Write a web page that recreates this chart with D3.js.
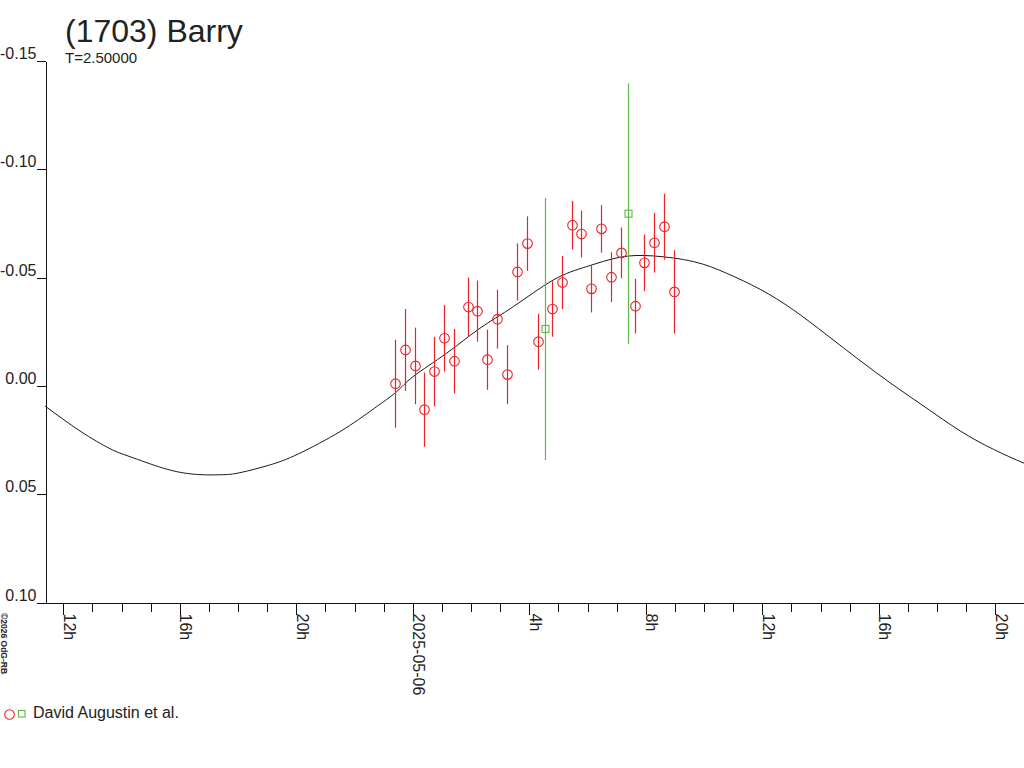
<!DOCTYPE html>
<html>
<head>
<meta charset="utf-8">
<script src="https://cdn.jsdelivr.net/npm/d3@7"></script>
<style>
  html, body { margin: 0; padding: 0; background: #fff; }
  svg { display: block; }
  text { font-family: "Liberation Sans", Arial, sans-serif; fill: #222; }
</style>
</head>
<body>
<svg id="chart" width="1024" height="768"></svg>
<script>
// ---- Data (hours relative to 2025-05-06 00:00 UTC; magnitudes) ----
const title = "(1703) Barry";
const subtitle = "T=2.50000";
const legendLabel = "David Augustin et al.";
const copyright = "©2026 OdG-RB";

const yTicks = [-0.15, -0.10, -0.05, 0.00, 0.05, 0.10];
const yTickLabels = ["-0.15", "-0.10", "-0.05", "0.00", "0.05", "0.10"];

// red circles: time (h), magnitude, error
const redHours = [-0.584, -0.251, 0.093, 0.412, 0.755, 1.099, 1.432, 1.923, 2.232, 2.575,
                  2.918, 3.262, 3.605, 3.948, 4.316, 4.807, 5.140, 5.473, 5.803, 6.146,
                  6.489, 6.822, 7.155, 7.646, 7.966, 8.309, 8.652, 8.996];
const redMag = [-0.0008, -0.0164, -0.0090, 0.0112, -0.0064, -0.0218, -0.0112, -0.0362, -0.0343, -0.0119,
                -0.0306, -0.0050, -0.0524, -0.0655, -0.0202, -0.0353, -0.0475, -0.0740, -0.0699, -0.0446,
                -0.0723, -0.0500, -0.0612, -0.0366, -0.0566, -0.0659, -0.0733, -0.0432];
const redErr = [0.0203, 0.0189, 0.0177, 0.0171, 0.0161, 0.0154, 0.0149, 0.0136, 0.0141, 0.0139,
                0.0136, 0.0136, 0.0132, 0.0126, 0.0129, 0.0128, 0.0122, 0.0112, 0.0108, 0.0109,
                0.0110, 0.0115, 0.0117, 0.0126, 0.0131, 0.0138, 0.0152, 0.0192];

// green squares
const greenHours = [4.556, 7.396];
const greenMag = [-0.0261, -0.0793];
const greenErr = [0.0605, 0.0602];

// fitted curve samples
const curveHours = [-12.61, -11.41, -10.38, -9.69, -8.55, -7.69, -7.06, -6.49, -5.92, -4.89,
                    -3.91, -2.48, -1.34, -0.54, 0.03, 1.18, 2.32, 3.47, 4.84, 5.99,
                    7.13, 8.27, 9.65, 10.79, 11.94, 13.08, 14.23, 15.37, 16.51, 17.66,
                    18.81, 19.95, 21.0];
const curveMag = [0.0095, 0.0210, 0.0292, 0.0329, 0.0382, 0.0407, 0.0413, 0.0412, 0.0403, 0.0367,
                  0.0316, 0.0213, 0.0109, 0.0029, -0.0041, -0.0149, -0.0264, -0.0364, -0.0487, -0.0549,
                  -0.0592, -0.0598, -0.0572, -0.0518, -0.0444, -0.0349, -0.0233, -0.0115, -0.0002, 0.0105,
                  0.0210, 0.0295, 0.0359];

// ---- Setup ----
const base = Date.UTC(2025, 4, 6, 0, 0, 0);
const toDate = h => new Date(base + h * 3600e3);
const xDomain = [toDate(-12.61), toDate(21.0)];

const RED = "#ec2128";
const GREEN = "#5cb848";

const svg = d3.select("#chart");
const plotLeft = 45, plotRight = 1024, plotTop = 60.6, plotBottom = 602;

const x = d3.scaleUtc().domain(xDomain).range([plotLeft, plotRight]);
const y = d3.scaleLinear().domain([-0.15, 0.10]).range([plotTop, plotBottom]);

// ---- Axes ----
const yAxis = d3.axisLeft(y)
  .tickValues(yTicks)
  .tickFormat((d, i) => yTickLabels[i])
  .tickSize(9)
  .tickSizeOuter(0)
  .tickPadding(0);
const gy = svg.append("g").attr("transform", `translate(${plotLeft + 0.5},0.5)`).call(yAxis);
gy.selectAll("path, line").attr("stroke", "#111").attr("shape-rendering", "crispEdges");
gy.selectAll("text")
  .attr("x", -9)
  .attr("dy", "-2.5")
  .attr("font-size", 16)
  .attr("font-family", '"Liberation Sans", Arial, sans-serif')
  .attr("fill", "#222");

// minor ticks every hour
const xMinor = d3.axisBottom(x)
  .ticks(d3.utcHour.every(1))
  .tickFormat("")
  .tickSize(9)
  .tickSizeOuter(0);
const gxm = svg.append("g").attr("transform", `translate(0.5,${plotBottom + 0.5})`).call(xMinor);
gxm.selectAll("path, line").attr("stroke", "#111").attr("shape-rendering", "crispEdges");

// major ticks every 4 hours with rotated labels
const fmtHour = d3.utcFormat("%-Hh");
const fmtDay = d3.utcFormat("%Y-%m-%d");
const xMajor = d3.axisBottom(x)
  .ticks(d3.utcHour.every(4))
  .tickFormat(d => d.getUTCHours() === 0 ? fmtDay(d) : fmtHour(d))
  .tickSize(12)
  .tickSizeOuter(0);
const gx = svg.append("g").attr("transform", `translate(0.5,${plotBottom + 0.5})`).call(xMajor);
gx.select("path.domain").remove();
gx.selectAll("line").attr("stroke", "#111").attr("shape-rendering", "crispEdges");
gx.selectAll("text")
  .attr("y", 0)
  .attr("dy", 0)
  .attr("text-anchor", "start")
  .attr("transform", "translate(0,11) rotate(90)")
  .attr("font-size", 16)
  .attr("font-family", '"Liberation Sans", Arial, sans-serif')
  .attr("fill", "#222");

// ---- Curve ----
const curvePts = curveHours.map((h, i) => [toDate(h), curveMag[i]]);
const line = d3.line().x(d => x(d[0])).y(d => y(d[1])).curve(d3.curveNatural);
svg.append("path")
  .attr("d", line(curvePts))
  .attr("fill", "none")
  .attr("stroke", "#1a1a1a")
  .attr("stroke-width", 1);

// ---- Data points ----
const red = redHours.map((h, i) => ({ t: toDate(h), m: redMag[i], e: redErr[i] }));
const green = greenHours.map((h, i) => ({ t: toDate(h), m: greenMag[i], e: greenErr[i] }));

const gPts = svg.append("g");
gPts.selectAll("line.gerr").data(green).join("line")
  .attr("class", "gerr")
  .attr("x1", d => Math.round(x(d.t)) + 0.5).attr("x2", d => Math.round(x(d.t)) + 0.5)
  .attr("y1", d => y(d.m - d.e)).attr("y2", d => y(d.m + d.e))
  .attr("stroke", GREEN).attr("stroke-width", 1.2);
gPts.selectAll("line.rerr").data(red).join("line")
  .attr("class", "rerr")
  .attr("x1", d => Math.round(x(d.t)) + 0.5).attr("x2", d => Math.round(x(d.t)) + 0.5)
  .attr("y1", d => y(d.m - d.e)).attr("y2", d => y(d.m + d.e))
  .attr("stroke", RED).attr("stroke-width", 1.2);
gPts.selectAll("circle").data(red).join("circle")
  .attr("cx", d => Math.round(x(d.t)) + 0.5)
  .attr("cy", d => y(d.m))
  .attr("r", 4.8)
  .attr("fill", "none")
  .attr("stroke", RED)
  .attr("stroke-width", 1.1);
gPts.selectAll("rect").data(green).join("rect")
  .attr("x", d => Math.round(x(d.t)) + 0.5 - 3.5)
  .attr("y", d => y(d.m) - 3.5)
  .attr("width", 7).attr("height", 7)
  .attr("fill", "none")
  .attr("stroke", GREEN)
  .attr("stroke-width", 1.1);

// ---- Titles ----
svg.append("text").attr("x", 65).attr("y", 42)
  .attr("font-size", 32).text(title);
svg.append("text").attr("x", 65).attr("y", 63)
  .attr("font-size", 15).text(subtitle);

// ---- Legend ----
svg.append("circle").attr("cx", 9.5).attr("cy", 714.5).attr("r", 4.8)
  .attr("fill", "none").attr("stroke", RED).attr("stroke-width", 1.1);
svg.append("rect").attr("x", 18.5).attr("y", 710.5).attr("width", 6.5).attr("height", 6.5)
  .attr("fill", "none").attr("stroke", GREEN).attr("stroke-width", 1.1);
svg.append("text").attr("x", 33).attr("y", 718)
  .attr("font-size", 16).text(legendLabel);

// ---- Copyright ----
svg.append("text")
  .attr("transform", "translate(1,613) rotate(90)")
  .attr("font-size", 8.5)
  .attr("font-weight", "bold")
  .attr("fill", "#333")
  .text(copyright);
</script>
</body>
</html>
